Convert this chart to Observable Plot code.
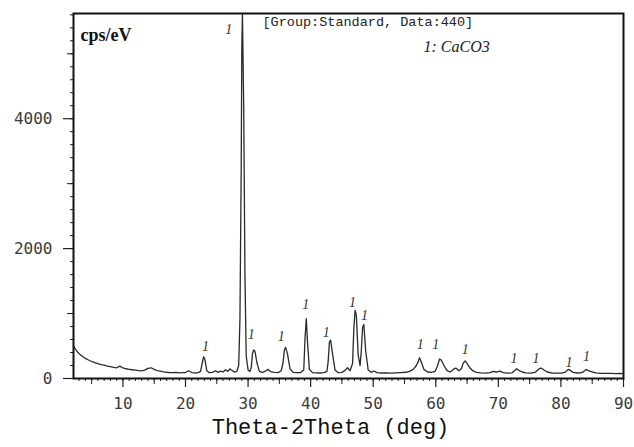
<!DOCTYPE html>
<html>
<head>
<meta charset="utf-8">
<script src="https://cdn.jsdelivr.net/npm/d3@7"></script>
<script src="https://cdn.jsdelivr.net/npm/@observablehq/plot@0.6"></script>
<style>
  html, body { margin: 0; padding: 0; background: #fff; }
</style>
</head>
<body>
<div id="chart"></div>
<script>
const twoTheta = [
  2.1, 2.4, 2.8, 3.2, 3.6, 4.0, 4.5, 5.0, 5.5, 6.0, 6.5, 7.0, 7.5, 8.0, 8.5, 9.0, 9.5, 10.0,
  10.5, 11.0, 11.5, 12.0, 12.5, 13.0, 13.5, 14.0, 14.5, 15.0, 15.5, 16.0, 16.5, 17.0, 17.5, 18.0,
  18.5, 19.0, 19.5, 20.0, 20.5, 21.0, 21.5, 22.0, 22.4, 22.7, 22.9, 23.1, 23.4, 23.8, 24.3, 24.8,
  25.2, 25.6, 26.0, 26.4, 26.8, 27.1, 27.4, 27.8, 28.2, 28.5, 28.7, 28.9, 29.0, 29.1, 29.3, 29.5,
  29.7, 30.0, 30.3, 30.5, 30.7, 30.9, 31.1, 31.4, 31.8, 32.3, 32.8, 33.2, 33.6, 34.2, 34.8, 35.3,
  35.6, 35.8, 36.0, 36.3, 36.7, 37.2, 37.8, 38.4, 38.9, 39.1, 39.3, 39.5, 39.8, 40.3, 40.9, 41.5,
  42.1, 42.6, 42.8, 43.0, 43.2, 43.5, 43.9, 44.4, 45.0, 45.5, 45.9, 46.3, 46.7, 46.9, 47.1, 47.3,
  47.6, 47.9, 48.1, 48.3, 48.5, 48.8, 49.2, 49.7, 50.1, 50.6, 51.3, 52.0, 52.8, 53.6, 54.4, 55.2,
  55.8, 56.4, 56.9, 57.2, 57.4, 57.7, 58.1, 58.7, 59.3, 59.9, 60.3, 60.6, 60.9, 61.3, 61.8, 62.3,
  62.8, 63.2, 63.7, 64.1, 64.4, 64.7, 65.0, 65.4, 65.9, 66.5, 67.2, 68.0, 68.7, 69.2, 69.7, 70.2,
  70.8, 71.5, 72.2, 72.6, 72.9, 73.3, 73.8, 74.4, 75.2, 75.9, 76.3, 76.6, 76.9, 77.3, 77.8, 78.5,
  79.3, 80.1, 80.7, 81.0, 81.2, 81.5, 81.9, 82.5, 83.2, 83.7, 84.0, 84.3, 84.7, 85.1, 85.6, 86.3,
  87.1, 88.0, 88.8, 89.5, 90.0
];
const intensity = [
  500, 455, 400, 365, 335, 310, 285, 262, 245, 228, 215, 205, 192, 182, 172, 165, 190, 162,
  150, 142, 135, 128, 122, 118, 128, 155, 165, 140, 120, 112, 102, 96, 92, 90,
  95, 88, 90, 92, 120, 92, 85, 90, 110, 250, 335, 290, 120, 90, 95, 120,
  95, 115, 100, 135, 110, 150, 125, 100, 110, 200, 900, 3200, 5100, 5620, 4200, 1600,
  350, 130, 110, 160, 380, 440, 420, 250, 110, 95, 115, 140, 105, 95, 90, 120,
  250, 440, 480, 380, 150, 95, 90, 92, 130, 620, 920, 560, 140, 90, 88, 85,
  90, 110, 260, 560, 590, 380, 130, 90, 95, 125, 165, 120, 230, 760, 1050, 980,
  360, 200, 430, 790, 830, 420, 130, 95, 115, 90, 85, 88, 84, 88, 92, 96,
  110, 140, 200, 260, 320, 250, 140, 100, 95, 110, 200, 300, 280, 200, 120, 100,
  140, 160, 120, 150, 240, 270, 230, 170, 120, 95, 88, 84, 90, 110, 100, 115,
  92, 82, 88, 120, 150, 125, 100, 88, 84, 95, 130, 155, 158, 130, 100, 85,
  82, 84, 100, 125, 140, 125, 95, 85, 88, 110, 140, 125, 110, 100, 88, 80,
  78, 80, 76, 78, 75
];

// peak markers "1" (CaCO3), placed above each reflection
const peakLabelX = [23.2, 26.9, 30.5, 35.3, 39.2, 42.5, 46.7, 48.6, 57.5, 60.0, 64.7, 72.5, 76.0, 81.3, 84.1];
const peakLabelY = [500, 5380, 680, 650, 1140, 710, 1170, 975, 530, 530, 440, 315, 315, 240, 345];
const peakLabelText = "1";

const xMajorTicks = [10, 20, 30, 40, 50, 60, 70, 80, 90];
const xMidTicks = [5, 15, 25, 35, 45, 55, 65, 75, 85];
const xMinorTicks = d3.range(3, 91, 1);
const yMajorTicks = [0, 2000, 4000];
const yMidTicks = [1000, 3000, 5000];
const yMinorTicks = d3.range(0, 5601, 200);

const yUnitText = "cps/eV";
const headerText = "[Group:Standard, Data:440]";
const phaseText = "1: CaCO3";
const xTitle = "Theta-2Theta (deg)";

const points = twoTheta.map((t, i) => ({t, v: intensity[i]}));
const labels = peakLabelX.map((t, i) => ({t, v: peakLabelY[i]}));

const mono = "'DejaVu Sans Mono', monospace";
const courier = "'Liberation Mono', 'Courier New', monospace";
const serif = "'Liberation Serif', 'Times New Roman', serif";

const chart = Plot.plot({
  width: 634,
  height: 447,
  marginLeft: 73,
  marginRight: 11,
  marginTop: 13,
  marginBottom: 69,
  style: {background: "#fff", color: "#222"},
  x: {domain: [2.1, 90], label: null},
  y: {domain: [0, 5620], label: null},
  marks: [
    // minor / medium ticks
    Plot.axisX({ticks: xMinorTicks, tickSize: 3, tickFormat: () => "", label: null, strokeWidth: 1}),
    Plot.axisX({ticks: xMidTicks, tickSize: 6, tickFormat: () => "", label: null, strokeWidth: 1}),
    Plot.axisX({ticks: xMajorTicks, tickSize: 9, tickPadding: 10, label: null, strokeWidth: 1.2,
      fontSize: 16, fontFamily: mono, fill: "#3a3a3a"}),
    Plot.axisY({ticks: yMinorTicks, tickSize: 3, tickFormat: () => "", label: null, strokeWidth: 1}),
    Plot.axisY({ticks: yMidTicks, tickSize: 6, tickFormat: () => "", label: null, strokeWidth: 1}),
    Plot.axisY({ticks: yMajorTicks, tickSize: 10, tickPadding: 11, label: null, strokeWidth: 1.2,
      tickFormat: d => String(d), fontSize: 16, fontFamily: mono, fill: "#3a3a3a"}),
    Plot.line(points, {x: "t", y: "v", stroke: "#2a2a2a", strokeWidth: 1.3, clip: true}),
    Plot.text(labels, {x: "t", y: "v", text: () => peakLabelText, fontFamily: serif,
      fontStyle: "italic", fontSize: 14, fill: "#333"}),
    Plot.frame({stroke: "#111", strokeWidth: 2}),
    Plot.text([yUnitText], {frameAnchor: "top-left", dx: 7, dy: 15, text: d => d,
      fontFamily: serif, fontWeight: "bold", fontSize: 18, fill: "#111"}),
    Plot.text([headerText], {frameAnchor: "top-left", dx: 189, dy: 3, text: d => d,
      fontFamily: courier, fontSize: 13.5, fill: "#222"}),
    Plot.text([phaseText], {frameAnchor: "top-left", dx: 350, dy: 27, text: d => d,
      fontFamily: serif, fontStyle: "italic", fontSize: 16, fill: "#222"}),
    Plot.text([xTitle], {frameAnchor: "bottom", dx: -18, dy: 55, text: d => d,
      fontFamily: courier, fontSize: 22, fill: "#111"})
  ]
});
document.getElementById("chart").appendChild(chart);
</script>
</body>
</html>
